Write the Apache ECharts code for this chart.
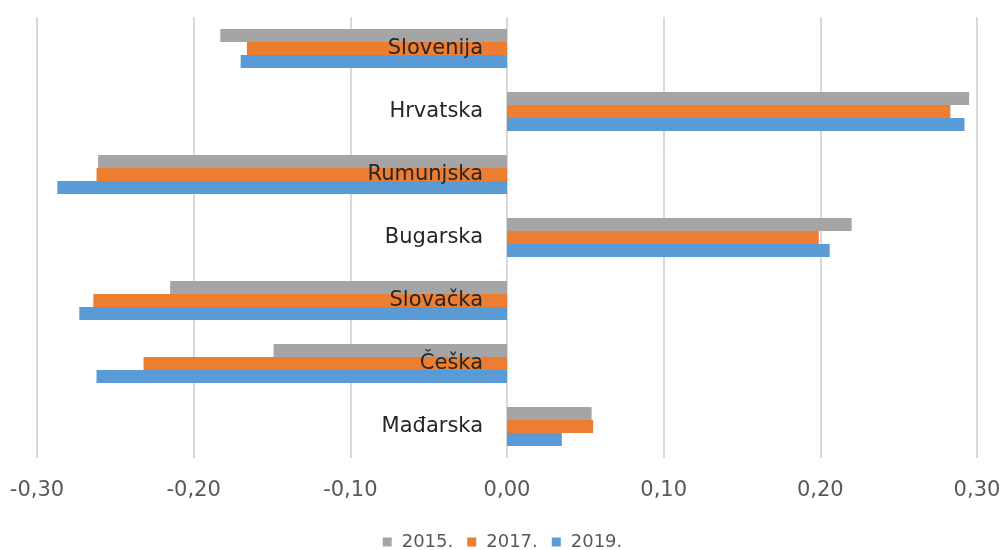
<!DOCTYPE html>
<html>
<head>
<meta charset="utf-8">
<title>chart</title>
<script src="https://cdn.jsdelivr.net/npm/echarts@6/dist/echarts.min.js"></script>
<style>
  html, body { margin: 0; padding: 0; background: #fff; }
  #chart { width: 1005px; height: 550px; }
</style>
</head>
<body>
<div id="chart"></div>
<script>
// kategorije odozdo prema gore (ECharts crta prvu kategoriju na dnu)
var countries = ['Mađarska', 'Češka', 'Slovačka', 'Bugarska', 'Rumunjska', 'Hrvatska', 'Slovenija'];
var years = ['2015.', '2017.', '2019.'];

var values2015 = [0.054, -0.149, -0.215, 0.220, -0.261, 0.295, -0.183];
var values2017 = [0.055, -0.232, -0.264, 0.199, -0.262, 0.283, -0.166];
var values2019 = [0.035, -0.262, -0.273, 0.206, -0.287, 0.292, -0.170];

var xTicks = [-0.3, 0.3, 0.1]; // min, max, interval

var chart = echarts.init(document.getElementById('chart'));

function fmt(v) {
	return v.toFixed(2).replace('.', ',');
}

chart.setOption({
	animation: false,
	textStyle: { fontFamily: '"DejaVu Sans", sans-serif' },
	color: ['#A5A5A5', '#ED7D31', '#5B9BD5'],
	legend: {
		data: years,
		top: 528,
		left: 'center',
		itemWidth: 9,
		itemHeight: 9,
		itemGap: 14,
		icon: 'rect',
		textStyle: { color: '#595959', fontSize: 18, padding: [0, 0, 0, 5] }
	},
	grid: {
		top: 17,
		left: 37,
		right: 28,
		bottom: 92,
		containLabel: false,
		outerBoundsMode: 'none'
	},
	xAxis: {
		type: 'value',
		min: xTicks[0],
		max: xTicks[1],
		interval: xTicks[2],
		axisLine: { show: false },
		axisTick: { show: false },
		axisLabel: {
			color: '#595959',
			fontSize: 21,
			margin: 22,
			formatter: fmt
		},
		splitLine: {
			lineStyle: { color: '#D9D9D9', width: 2 }
		}
	},
	yAxis: {
		type: 'category',
		data: countries,
		position: 'left',
		offset: -470, // os pomaknuta na x = 0
		z: 10, // nazivi iznad stupaca
		axisLine: { show: false, onZero: false },
		axisTick: { show: false },
		axisLabel: {
			color: '#262626',
			fontSize: 21,
			margin: 24
		},
		splitLine: { show: false }
	},
	series: [{
		name: years[0],
		type: 'bar',
		barGap: 0,
		barCategoryGap: '38%',
		data: values2015
	}, {
		name: years[1],
		type: 'bar',
		barGap: 0,
		barCategoryGap: '38%',
		data: values2017
	}, {
		name: years[2],
		type: 'bar',
		barGap: 0,
		barCategoryGap: '38%',
		data: values2019
	}]
});
</script>
</body>
</html>
